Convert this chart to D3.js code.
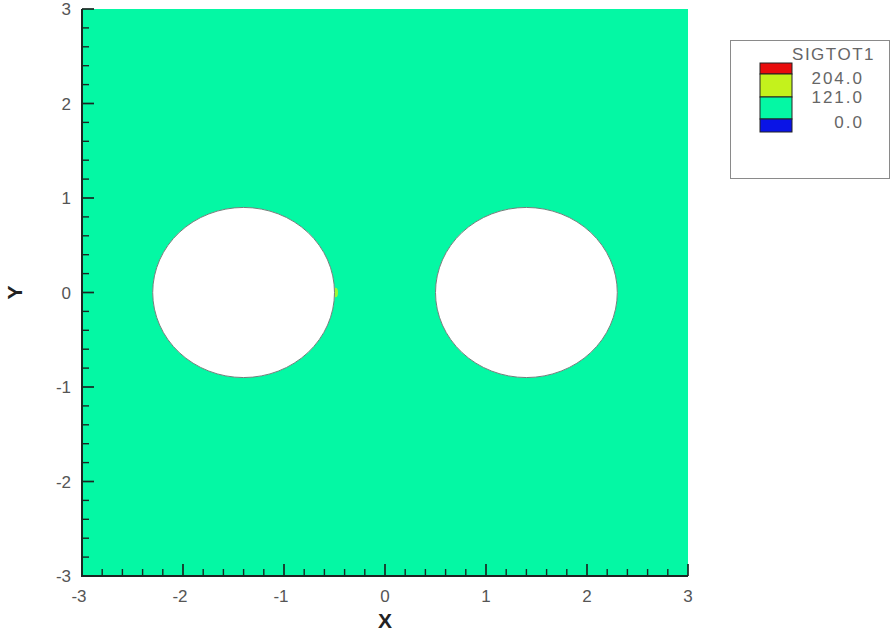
<!DOCTYPE html>
<html>
<head>
<meta charset="utf-8">
<script src="https://cdn.jsdelivr.net/npm/d3@7"></script>
<style>
  html, body { margin: 0; padding: 0; background: #fff; }
  svg { display: block; }
  text { font-family: "Liberation Sans", Arial, sans-serif; }
</style>
</head>
<body>
<svg id="chart" width="891" height="633"></svg>
<script>
// Contour levels of SIGTOT1 and the colour of each band (below, between, above)
const levels = [0.0, 121.0, 204.0];
const bandColors = ["#0a14e6", "#04f8a4", "#c4f21c", "#e80c0c"];
const legendLabels = ["204.0", "121.0", "0.0"];

// Plate domain and ticks
const xDomain = [-3, 3];
const yDomain = [-3, 3];
const majorTicks = [-3, -2, -1, 0, 1, 2, 3];

// Holes in the plate: centres and radius
const holeX = [-1.4, 1.4];
const holeY = [0, 0];
const holeR = [0.9, 0.9];

// Nodal stress: bulk of the plate, and a small raised zone at the inner hole edge
const bulkStress = 80;
const spotX = [-0.49];
const spotY = [0.0];
const spotRx = [0.025];
const spotRy = [0.05];
const spotStress = [140];

const svg = d3.select("#chart");
const x = d3.scaleLinear().domain(xDomain).range([82, 688]);
const y = d3.scaleLinear().domain(yDomain).range([576, 9]);
const color = d3.scaleThreshold().domain(levels).range(bandColors);

// Plate with holes (even-odd fill)
const p = d3.path();
p.rect(x(xDomain[0]), y(yDomain[1]), x(xDomain[1]) - x(xDomain[0]), y(yDomain[0]) - y(yDomain[1]));
holeX.forEach((cx, i) => {
  const rx = x(cx + holeR[i]) - x(cx);
  const ry = y(holeY[i]) - y(holeY[i] + holeR[i]);
  const c = x(cx), cy = y(holeY[i]);
  const n = 120;
  for (let k = 0; k <= n; k++) {
    const a = (k / n) * 2 * Math.PI;
    const px = c + rx * Math.cos(a), py = cy + ry * Math.sin(a);
    if (k === 0) p.moveTo(px, py); else p.lineTo(px, py);
  }
  p.closePath();
});
svg.append("path")
  .attr("d", p.toString())
  .attr("fill", color(bulkStress))
  .attr("fill-rule", "evenodd");

// Raised-stress spot
svg.selectAll("ellipse.spot")
  .data(spotX.map((d, i) => ({ x: d, y: spotY[i], rx: spotRx[i], ry: spotRy[i], v: spotStress[i] })))
  .join("ellipse")
  .attr("class", "spot")
  .attr("cx", d => x(d.x))
  .attr("cy", d => y(d.y))
  .attr("rx", d => x(d.x + d.rx) - x(d.x))
  .attr("ry", d => y(d.y) - y(d.y + d.ry))
  .attr("fill", d => color(d.v))
  .attr("opacity", 0.8);

// Hole outlines
svg.selectAll("ellipse.hole")
  .data(holeX.map((d, i) => ({ x: d, y: holeY[i], r: holeR[i] })))
  .join("ellipse")
  .attr("class", "hole")
  .attr("cx", d => x(d.x))
  .attr("cy", d => y(d.y))
  .attr("rx", d => x(d.x + d.r) - x(d.x))
  .attr("ry", d => y(d.y) - y(d.y + d.r))
  .attr("fill", "#fff")
  .attr("stroke", "#6f807a")
  .attr("stroke-width", 1);

// Minor ticks every 0.2
const minorTicks = d3.range(-3, 3.0001, 0.2).map(v => +v.toFixed(1))
  .filter(v => !majorTicks.includes(v));
const fmt = d => d3.format("d")(d).replace("−", "-");

const axisColor = "#1a2622";
const gx = svg.append("g").attr("transform", `translate(0,${y(yDomain[0])})`);
gx.append("line")
  .attr("x1", x(xDomain[0])).attr("x2", x(xDomain[1]))
  .attr("stroke", axisColor).attr("stroke-width", 2);
gx.selectAll("line.maj").data(majorTicks).join("line")
  .attr("class", "maj")
  .attr("x1", d => x(d)).attr("x2", d => x(d))
  .attr("y1", 0).attr("y2", -12)
  .attr("stroke", axisColor).attr("stroke-width", 1.7);
gx.selectAll("line.min").data(minorTicks).join("line")
  .attr("class", "min")
  .attr("x1", d => x(d)).attr("x2", d => x(d))
  .attr("y1", 0).attr("y2", -7)
  .attr("stroke", axisColor).attr("stroke-width", 1.4);
gx.selectAll("text").data(majorTicks).join("text")
  .attr("x", d => x(d) - (d < 0 ? 3 : 0))
  .attr("y", 26)
  .attr("text-anchor", "middle")
  .attr("font-size", 17)
  .attr("fill", "#555")
  .text(fmt);

const gy = svg.append("g").attr("transform", `translate(${x(xDomain[0])},0)`);
gy.append("line")
  .attr("y1", y(yDomain[0]) + 1).attr("y2", y(yDomain[1]))
  .attr("stroke", axisColor).attr("stroke-width", 2);
gy.selectAll("line.maj").data(majorTicks).join("line")
  .attr("class", "maj")
  .attr("y1", d => y(d)).attr("y2", d => y(d))
  .attr("x1", 0).attr("x2", 12)
  .attr("stroke", axisColor).attr("stroke-width", 1.7);
gy.selectAll("line.min").data(minorTicks).join("line")
  .attr("class", "min")
  .attr("y1", d => y(d)).attr("y2", d => y(d))
  .attr("x1", 0).attr("x2", 7)
  .attr("stroke", axisColor).attr("stroke-width", 1.4);
gy.selectAll("text").data(majorTicks).join("text")
  .attr("x", -11)
  .attr("y", d => y(d) + 6)
  .attr("text-anchor", "end")
  .attr("font-size", 17)
  .attr("fill", "#555")
  .text(fmt);

// Axis titles
svg.append("text")
  .attr("x", x(0)).attr("y", 628)
  .attr("text-anchor", "middle")
  .attr("font-size", 21).attr("font-weight", "bold").attr("fill", "#222")
  .text("X");
svg.append("text")
  .attr("transform", `translate(22,${y(0)}) rotate(-90)`)
  .attr("text-anchor", "middle")
  .attr("font-size", 21).attr("font-weight", "bold").attr("fill", "#222")
  .text("Y");

// Legend
const lg = svg.append("g");
lg.append("rect")
  .attr("x", 730.5).attr("y", 40.5).attr("width", 159).attr("height", 138)
  .attr("fill", "#fff").attr("stroke", "#8a8a8a").attr("stroke-width", 1);
lg.append("text")
  .attr("x", 875).attr("y", 60)
  .attr("text-anchor", "end")
  .attr("font-size", 17).attr("letter-spacing", 1.5).attr("fill", "#666")
  .text("SIGTOT1");
// swatch bands from top (highest) to bottom (lowest)
const swatchEdges = [63, 74, 97, 119, 132];
const swatchColors = bandColors.slice().reverse();
lg.selectAll("rect.sw").data(swatchColors).join("rect")
  .attr("class", "sw")
  .attr("x", 760).attr("width", 32)
  .attr("y", (d, i) => swatchEdges[i])
  .attr("height", (d, i) => swatchEdges[i + 1] - swatchEdges[i])
  .attr("fill", d => d)
  .attr("stroke", "#222").attr("stroke-width", 1);
const labelY = [84, 103, 128];
lg.selectAll("text.lab").data(legendLabels).join("text")
  .attr("class", "lab")
  .attr("x", 864)
  .attr("y", (d, i) => labelY[i])
  .attr("text-anchor", "end")
  .attr("font-size", 17).attr("letter-spacing", 2).attr("fill", "#666")
  .text(d => d);
</script>
</body>
</html>
